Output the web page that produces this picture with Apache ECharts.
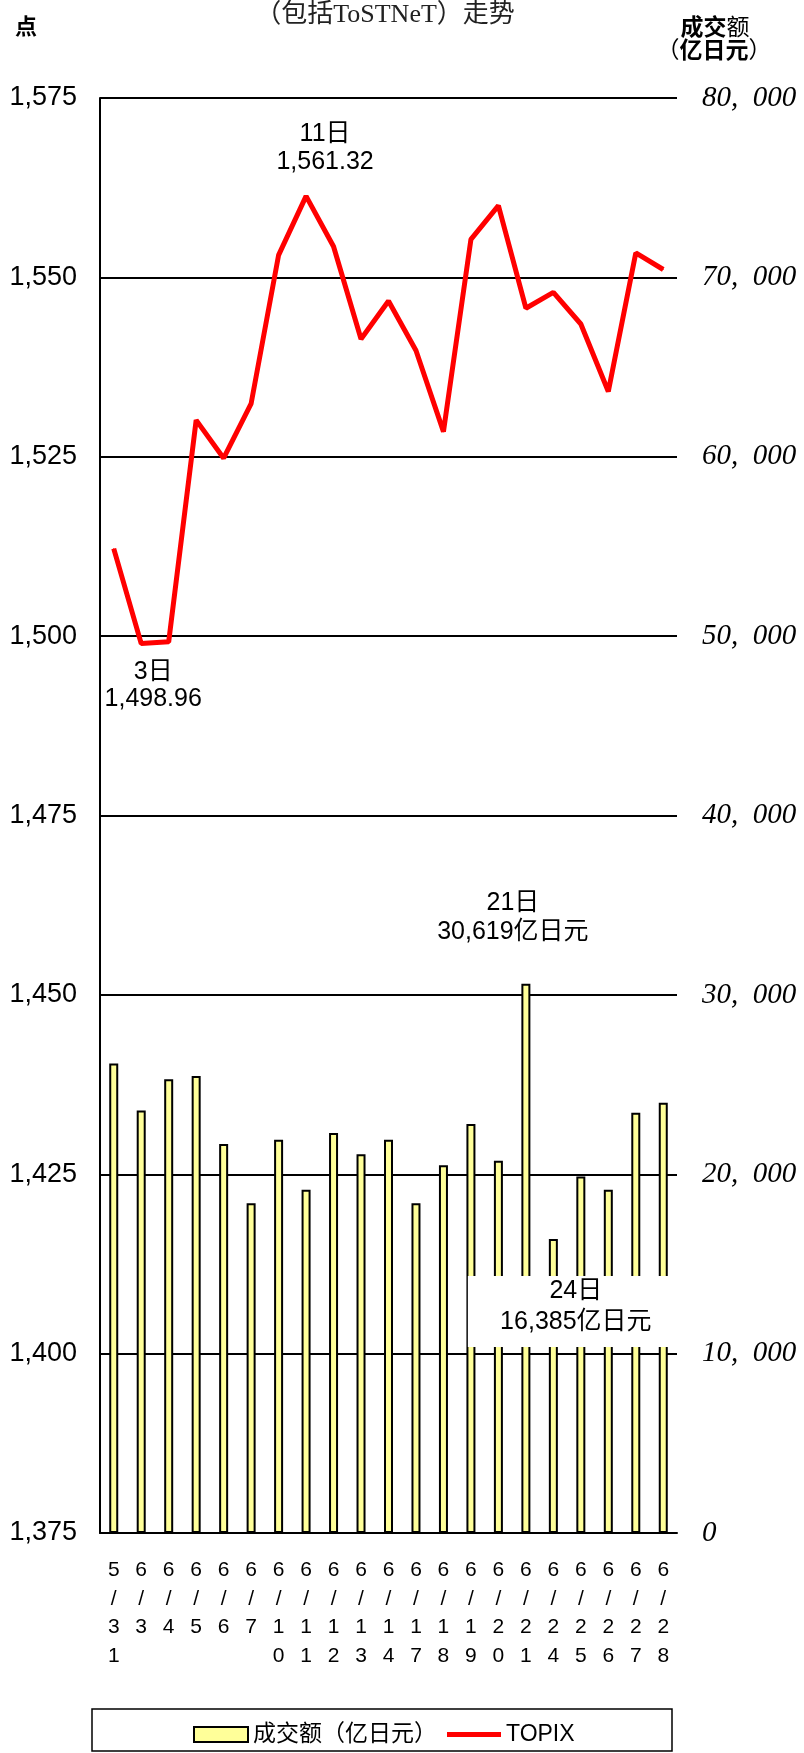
<!DOCTYPE html>
<html>
<head>
<meta charset="utf-8">
<script src="https://cdn.jsdelivr.net/npm/echarts@6/dist/echarts.min.js"></script>
<style>
html,body{margin:0;padding:0;background:#fff;}
#c{width:804px;height:1753px;}
</style>
</head>
<body>
<div id="c"></div>
<script>
const categories = ['5/31','6/3','6/4','6/5','6/6','6/7','6/10','6/11','6/12','6/13','6/14','6/17','6/18','6/19','6/20','6/21','6/24','6/25','6/26','6/27','6/28'];
const turnover = [26170, 23550, 25300, 25480, 21680, 18380, 21930, 19130, 22300, 21120, 21930, 18380, 20500, 22800, 20750, 30619, 16385, 19880, 19130, 23430, 23990];
const topix = [1512.2, 1498.96, 1499.2, 1530.1, 1524.8, 1532.4, 1553.1, 1561.32, 1554.3, 1541.4, 1546.7, 1539.8, 1528.5, 1555.3, 1560.0, 1545.7, 1547.9, 1543.5, 1534.1, 1553.4, 1551.1];
const leftTicks = {min: 1375, max: 1575, interval: 25};
const rightTicks = {min: 0, max: 80000, interval: 10000};

const SANS = "'Liberation Sans', 'Noto Sans CJK SC', sans-serif";
const SERIF = "'Liberation Serif', 'Noto Sans CJK SC', serif";

function fmtNum(v) {
  return String(v).replace(/\B(?=(\d{3})+(?!\d))/g, ',');
}

const barData = turnover.map((v, i) => {
  const item = {value: v};
  if (i === 15) {
    item.label = {
      show: true, position: 'top', distance: 37, offset: [-13, 0],
      formatter: '21日\n30,619亿日元',
      fontSize: 25, lineHeight: 29, color: '#000', fontFamily: SANS, align: 'center'
    };
  }
  if (i === 16) {
    item.label = {
      show: true, position: [21, 37], align: 'center', verticalAlign: 'top',
      formatter: '24日\n16,385亿日元',
      fontSize: 25, lineHeight: 31, color: '#000', fontFamily: SANS,
      backgroundColor: '#fff', width: 188, height: 62, padding: [0, 2, 9, 14]
    };
  }
  return item;
});

const lineData = topix.map((v, i) => {
  const item = {value: v};
  if (i === 7) {
    item.label = {
      show: true, position: 'top', distance: 20, offset: [19, 0],
      formatter: '11日\n1,561.32',
      fontSize: 25, lineHeight: 28, color: '#000', fontFamily: SANS, align: 'center'
    };
  }
  if (i === 1) {
    item.label = {
      show: true, position: 'bottom', distance: 15, offset: [12, 0],
      formatter: '3日\n1,498.96',
      fontSize: 25, lineHeight: 27, color: '#000', fontFamily: SANS, align: 'center'
    };
  }
  return item;
});

const chart = echarts.init(document.getElementById('c'), null, {renderer: 'canvas'});
chart.setOption({
  backgroundColor: '#fff',
  animation: false,
  grid: {left: 100, right: 127, top: 98, bottom: 220, containLabel: false},
  legend: {
    left: 188, top: 1718,
    itemWidth: 54, itemHeight: 15, itemGap: 10,
    textStyle: {fontSize: 23, color: '#000', fontFamily: SANS},
    data: [
      {name: '成交额（亿日元）', icon: 'rect'},
      {name: 'TOPIX', icon: 'path://M0,0H54V5H0Z', symbolKeepAspect: true}
    ]
  },
  graphic: [
    {type: 'text', left: 15, top: 17, style: {text: '点', fontSize: 22, fontWeight: 'bold', fill: '#000', fontFamily: SANS}},
    {type: 'text', x: 385, y: 15, style: {text: '（包括ToSTNeT）走势', fontSize: 26, fill: '#222', fontFamily: SERIF, align: 'center', verticalAlign: 'middle'}},
    {type: 'text', x: 715, y: 29, style: {
      text: '{b|成交}{n|额}', align: 'center', verticalAlign: 'middle', fontFamily: SANS,
      rich: {b: {fontSize: 23, fontWeight: 'bold', fill: '#000', fontFamily: SANS}, n: {fontSize: 23, fill: '#000', fontFamily: SANS}}
    }},
    {type: 'text', x: 714, y: 52, style: {
      text: '{p|（}{b|亿日元}{p|）}', align: 'center', verticalAlign: 'middle', fontFamily: SANS,
      rich: {b: {fontSize: 23, fontWeight: 'bold', fill: '#000', fontFamily: SANS}, p: {fontSize: 23, fill: '#000', fontFamily: SANS}}
    }},
    {type: 'rect', shape: {x: 92, y: 1709, width: 580, height: 42}, style: {fill: 'none', stroke: '#000', lineWidth: 1.5}, z: -1}
  ],
  xAxis: {
    type: 'category',
    data: categories,
    axisLine: {show: true, lineStyle: {color: '#000', width: 2}},
    axisTick: {show: false},
    axisLabel: {
      interval: 0, margin: 23, fontSize: 21, lineHeight: 28.5, color: '#000', fontFamily: SANS,
      formatter: v => v.split('').join('\n')
    }
  },
  yAxis: [
    {
      type: 'value', min: leftTicks.min, max: leftTicks.max, interval: leftTicks.interval,
      axisLine: {show: true, lineStyle: {color: '#000', width: 2}},
      axisTick: {show: false},
      splitLine: {show: true, lineStyle: {color: '#000', width: 2}},
      axisLabel: {margin: 23, fontSize: 27, color: '#000', fontFamily: SANS, formatter: v => fmtNum(v)}
    },
    {
      type: 'value', min: rightTicks.min, max: rightTicks.max, interval: rightTicks.interval,
      axisLine: {show: false}, axisTick: {show: false}, splitLine: {show: false},
      axisLabel: {
        margin: 25, fontSize: 29, fontStyle: 'italic', color: '#000', fontFamily: SERIF,
        formatter: v => v === 0 ? '0' : fmtNum(v).replace(/,/g, ',\u2002')
      }
    }
  ],
  series: [
    {
      name: '成交额（亿日元）', type: 'bar', yAxisIndex: 1,
      barWidth: 9,
      itemStyle: {color: '#FFFF99', borderColor: '#000', borderWidth: 2},
      data: barData, z: 2
    },
    {
      name: 'TOPIX', type: 'line', yAxisIndex: 0,
      symbol: 'circle', symbolSize: 1, showSymbol: true,
      lineStyle: {color: '#FF0000', width: 5},
      itemStyle: {color: '#FF0000'},
      data: lineData, z: 3
    }
  ]
});
</script>
</body>
</html>
